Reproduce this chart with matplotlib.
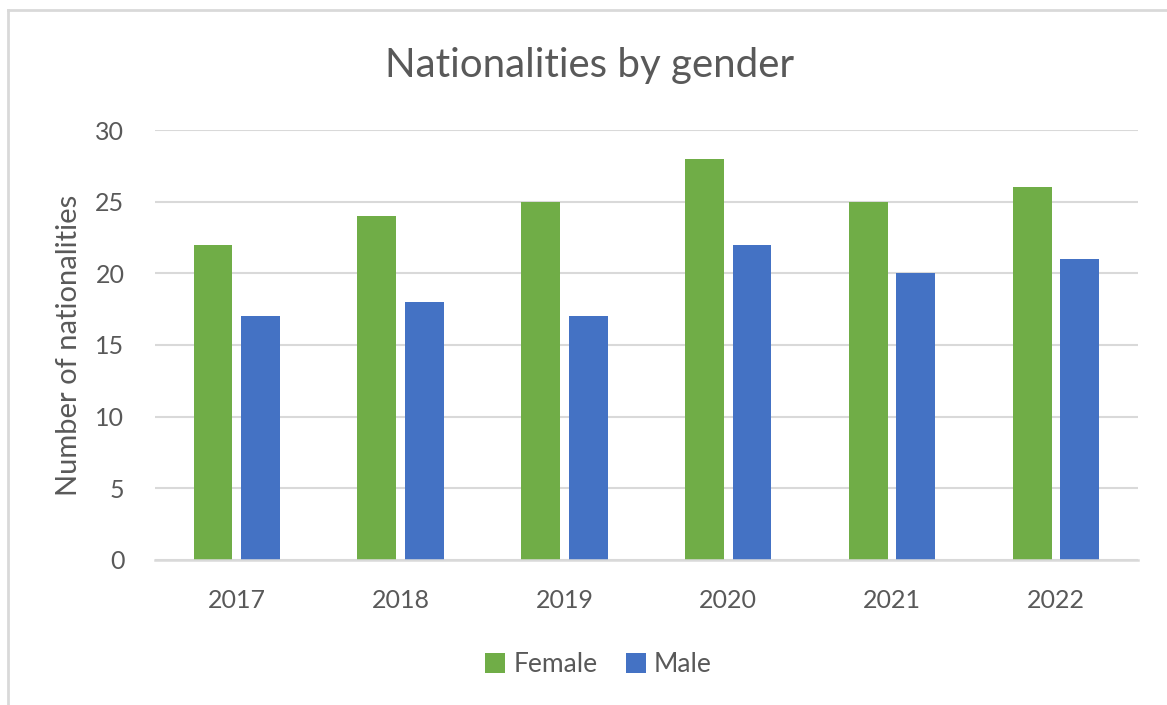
import matplotlib.pyplot as plt
import numpy as np
from matplotlib.lines import Line2D

years = ["2017", "2018", "2019", "2020", "2021", "2022"]
female = [22, 24, 25, 28, 25, 26]
male = [17, 18, 17, 22, 20, 21]

GREEN = "#70AD47"
BLUE = "#4472C4"
TEXT = "#595959"
GRID = "#D9D9D9"

plt.rcParams["font.family"] = ["Lato", "DejaVu Sans"]

fig = plt.figure(figsize=(11.67, 7.05), dpi=100)
ax = fig.add_axes([0.1328, 0.2057, 0.8423, 0.6099])

x = np.arange(len(years))
w = 0.237
ax.bar(x - 0.146, female, width=w, color=GREEN, label="Female", zorder=3)
ax.bar(x + 0.144, male, width=w, color=BLUE, label="Male", zorder=3)

ax.set_xlim(-0.5, len(years) - 0.5)
ax.set_ylim(0, 30)
ax.set_yticks(range(0, 31, 5))
ax.set_xticks(x)
ax.set_xticklabels(years)
ax.grid(axis="y", color=GRID, linewidth=1.5, zorder=0)
for s in ["top", "right", "left"]:
    ax.spines[s].set_visible(False)
ax.spines["bottom"].set_color(GRID)
ax.spines["bottom"].set_linewidth(1.8)
ax.spines["bottom"].set_zorder(4)
ax.tick_params(axis="both", length=0, labelsize=18, labelcolor=TEXT)
ax.tick_params(axis="x", pad=21)
ax.tick_params(axis="y", pad=22)

ax.set_ylabel("Number of nationalities", fontsize=21, color=TEXT)
ax.yaxis.set_label_coords(-0.074, 0.5)
fig.text(0.505, 0.907, "Nationalities by gender", fontsize=29, color=TEXT,
         ha="center", va="center")

leg = fig.legend(loc="center", bbox_to_anchor=(0.513, 0.057), ncol=2, frameon=False,
                 fontsize=19, labelcolor=TEXT, handlelength=0.75, handleheight=0.75,
                 handletextpad=0.3, columnspacing=1.1)

# outer chart frame (top and left edges visible in the screenshot)
fig.add_artist(Line2D([8 / 1167, 1.0], [1 - 10 / 705, 1 - 10 / 705],
                      transform=fig.transFigure, color=GRID, linewidth=2))
fig.add_artist(Line2D([8 / 1167, 8 / 1167], [0, 1 - 10 / 705],
                      transform=fig.transFigure, color=GRID, linewidth=2))

fig.savefig("out.png", dpi=100)
